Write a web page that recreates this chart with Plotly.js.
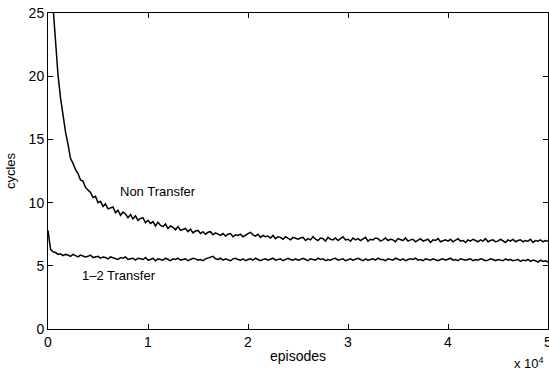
<!DOCTYPE html>
<html>
<head>
<meta charset="utf-8">
<script src="https://cdn.plot.ly/plotly-3.0.1.min.js"></script>
<style>html,body{margin:0;padding:0;background:#fff;}#chart{width:549px;height:372px;}</style>
</head>
<body>
<div id="chart"></div>
<script>
// episodes start at 0, one sample every 250 episodes (0 .. 50000)
const episodeStart = 0;
const episodeStep = 250;

const nonTransfer = [
  31.0, 28.2, 25.6, 22.6, 20.1, 18.3, 16.9, 15.6, 14.6, 13.5,
  13.1, 12.6, 12.3, 11.8, 11.7, 11.2, 11.0, 10.8, 10.4, 10.5,
  10.0, 10.1, 9.7, 9.9, 9.5, 9.6, 9.65, 9.2, 9.4, 9.0,
  9.25, 9.1, 8.8, 9.05, 8.7, 8.95, 8.6, 8.75, 8.8, 8.4,
  8.6, 8.35, 8.5, 8.15, 8.45, 8.2, 8.1, 8.3, 7.95, 8.15,
  8.05, 7.85, 8.1, 7.8, 7.9, 7.95, 7.7, 7.9, 7.6, 7.75,
  7.8, 7.55, 7.7, 7.5, 7.65, 7.7, 7.45, 7.6, 7.5, 7.4,
  7.55, 7.35, 7.5, 7.55, 7.3, 7.45, 7.4, 7.5, 7.3, 7.45,
  7.55, 7.65, 7.45, 7.35, 7.5, 7.25, 7.4, 7.3, 7.35, 7.2,
  7.4, 7.15, 7.3, 7.25, 7.1, 7.3, 7.2, 7.05, 7.25, 7.15,
  7.1, 7.2, 7.25, 7.0, 7.15, 7.05, 7.3, 7.1, 7.0, 7.2,
  7.15, 6.95, 7.25, 7.1, 7.05, 7.2, 7.0, 7.15, 7.3, 7.05,
  7.1, 6.95, 7.2, 7.05, 7.15, 7.0, 7.1, 7.25, 6.95, 7.1,
  7.05, 7.2, 7.15, 6.95, 7.05, 7.2, 7.0, 7.1, 7.05, 6.9,
  7.15, 7.05, 7.0, 7.2, 6.95, 7.05, 7.1, 6.9, 7.05, 7.15,
  6.95, 7.0, 7.1, 6.85, 7.05, 7.0, 7.15, 6.9, 7.0, 7.05,
  6.95, 7.1, 6.9, 7.05, 7.15, 6.95, 7.0, 6.85, 7.05, 6.95,
  7.1, 7.0, 6.9, 7.05, 6.95, 7.15, 6.9, 7.0, 7.05, 6.9,
  6.95, 7.1, 7.0, 6.85, 7.05, 6.95, 7.1, 6.9, 7.0, 7.05,
  6.9, 7.0, 6.95, 7.1, 6.85, 7.0, 6.95, 7.05, 6.9, 7.0,
  6.95
];

const oneTwoTransfer = [
  7.8, 6.3, 6.1, 6.05, 5.9, 5.95, 5.8, 5.9, 5.85, 5.75,
  5.9, 5.8, 5.7, 5.85, 5.8, 5.7, 5.75, 5.85, 5.65, 5.7,
  5.75, 5.6, 5.7, 5.65, 5.55, 5.7, 5.65, 5.6, 5.5, 5.65,
  5.6, 5.7, 5.5, 5.55, 5.6, 5.45, 5.6, 5.55, 5.5, 5.65,
  5.45, 5.5, 5.6, 5.4, 5.55, 5.5, 5.45, 5.6, 5.5, 5.4,
  5.55, 5.5, 5.6, 5.45, 5.5, 5.55, 5.4, 5.5, 5.6, 5.55,
  5.45, 5.5, 5.4, 5.55, 5.6, 5.65, 5.75, 5.55, 5.5, 5.6,
  5.45, 5.55, 5.5, 5.4, 5.55, 5.6, 5.5, 5.45, 5.55, 5.4,
  5.5, 5.55, 5.45, 5.6, 5.5, 5.4, 5.5, 5.55, 5.45, 5.5,
  5.6, 5.45, 5.5, 5.55, 5.4, 5.5, 5.6, 5.5, 5.45, 5.55,
  5.45, 5.5, 5.6, 5.5, 5.4, 5.55, 5.5, 5.45, 5.6, 5.5,
  5.55, 5.4, 5.5, 5.45, 5.55, 5.6, 5.45, 5.5, 5.55, 5.4,
  5.5, 5.55, 5.45, 5.5, 5.6, 5.5, 5.4, 5.55, 5.45, 5.5,
  5.55, 5.45, 5.6, 5.5, 5.5, 5.4, 5.55, 5.5, 5.45, 5.6,
  5.5, 5.45, 5.55, 5.4, 5.5, 5.55, 5.5, 5.6, 5.45, 5.5,
  5.4, 5.55, 5.5, 5.45, 5.55, 5.5, 5.4, 5.5, 5.55, 5.45,
  5.5, 5.6, 5.45, 5.5, 5.4, 5.55, 5.5, 5.45, 5.5, 5.55,
  5.4, 5.5, 5.45, 5.55, 5.5, 5.4, 5.45, 5.55, 5.5, 5.4,
  5.5, 5.45, 5.4, 5.55, 5.45, 5.5, 5.4, 5.45, 5.5, 5.35,
  5.45, 5.4, 5.5, 5.35, 5.45, 5.4, 5.3, 5.45, 5.35, 5.4,
  5.3
];

const xTickVals = [0, 10000, 20000, 30000, 40000, 50000];
const xTickText = ['0', '1', '2', '3', '4', '5'];
const yTickVals = [0, 5, 10, 15, 20, 25];

const seriesLabels = ['Non Transfer', '1\u20132 Transfer'];
const labelPos = [[7000, 10.85], [3150, 4.27]];

const font = 'Liberation Sans, Arial, Helvetica, sans-serif';

const traces = [
  {type: 'scatter', mode: 'lines', x0: episodeStart, dx: episodeStep, y: nonTransfer,
   line: {color: '#000', width: 1.5}, hoverinfo: 'skip'},
  {type: 'scatter', mode: 'lines', x0: episodeStart, dx: episodeStep, y: oneTwoTransfer,
   line: {color: '#000', width: 1.5}, hoverinfo: 'skip'}
];

const axisCommon = {
  showline: true, linecolor: '#000', linewidth: 1, mirror: 'allticks',
  ticks: 'inside', ticklen: 5, tickwidth: 1, tickcolor: '#000',
  showgrid: false, zeroline: false, ticklabeloverflow: 'allow',
  tickfont: {family: font, size: 14, color: '#000'}
};

const layout = {
  width: 549, height: 372,
  margin: {l: 48, r: 1, t: 13, b: 43},
  paper_bgcolor: '#fff', plot_bgcolor: '#fff',
  showlegend: false,
  font: {family: font, size: 13, color: '#000'},
  xaxis: Object.assign({}, axisCommon, {
    range: [0, 50000], tickmode: 'array', tickvals: xTickVals, ticktext: xTickText,
    title: {text: 'episodes', font: {family: font, size: 14, color: '#000'}, standoff: 2}
  }),
  yaxis: Object.assign({}, axisCommon, {
    range: [0, 25], tickmode: 'array', tickvals: yTickVals,
    title: {text: 'cycles', font: {family: font, size: 13, color: '#000'}, standoff: 10}
  }),
  annotations: [
    {x: labelPos[0][0], y: labelPos[0][1], xref: 'x', yref: 'y', text: seriesLabels[0],
     showarrow: false, xanchor: 'left', yanchor: 'middle', font: {family: font, size: 13, color: '#000'}},
    {x: labelPos[1][0], y: labelPos[1][1], xref: 'x', yref: 'y', text: seriesLabels[1],
     showarrow: false, xanchor: 'left', yanchor: 'middle', font: {family: font, size: 13, color: '#000'}},
    {x: 1, y: 0, xref: 'paper', yref: 'paper', xanchor: 'right', yanchor: 'top', yshift: -24, xshift: -2,
     text: 'x 10<sup>4</sup>', showarrow: false, font: {family: font, size: 13, color: '#000'}}
  ]
};

Plotly.newPlot('chart', traces, layout, {displayModeBar: false, staticPlot: true});
</script>
</body>
</html>
